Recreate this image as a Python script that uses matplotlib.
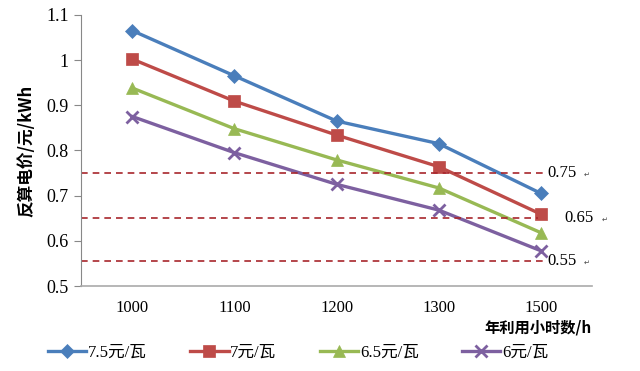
import matplotlib
matplotlib.use("Agg")
import matplotlib.pyplot as plt

categories = ["1000", "1100", "1200", "1300", "1500"]
series_names = ["7.5元/瓦", "7元/瓦", "6.5元/瓦", "6元/瓦"]
v75 = [1.065, 0.965, 0.865, 0.815, 0.705]
v70 = [1.002, 0.909, 0.834, 0.764, 0.659]
v65 = [0.938, 0.848, 0.779, 0.717, 0.618]
v60 = [0.875, 0.795, 0.725, 0.668, 0.578]
ref_values = [0.75, 0.65, 0.555]
ref_labels = ["0.75", "0.65", "0.55"]
yticks = [0.5, 0.6, 0.7, 0.8, 0.9, 1.0, 1.1]
ytick_labels = ["0.5", "0.6", "0.7", "0.8", "0.9", "1", "1.1"]

colors = ["#4A7EBB", "#BE4B48", "#98B954", "#7D60A0"]
markers = ["D", "s", "^", "x"]
msizes = [7, 9, 9, 9]

serif = ["Liberation Serif", "Noto Sans CJK SC", "DejaVu Sans"]
cjk = ["Noto Sans CJK SC", "DejaVu Sans"]

fig = plt.figure(figsize=(6.4, 3.71), dpi=100)
ax = fig.add_axes([0.127, 0.229, 0.798, 0.731])

x = list(range(len(categories)))
for vals, name, c, m, ms in zip([v75, v70, v65, v60], series_names, colors, markers, msizes):
    ax.plot(x, vals, color=c, lw=2.4, marker=m, markersize=ms,
            markeredgewidth=2 if m == "x" else 0.5, markeredgecolor=c, label=name)

ends = [4.05, 3.97, 4.05]
lx = [4.06, 4.23, 4.06]
for v, lab, e, tx in zip(ref_values, ref_labels, ends, lx):
    ax.plot([-0.5, e], [v, v], color="#A8262C", lw=1.2, ls=(0, (4, 3)))
    ax.text(tx, v, lab, family=serif, fontsize=12, va="center", ha="left")
    ax.text(tx + 0.36, v - 0.004, "↵", family=["DejaVu Sans"],
            fontsize=5, va="center", ha="left", color="#444444")

ax.set_xlim(-0.5, 4.5)
ax.set_ylim(0.5, 1.1)
ax.set_yticks(yticks)
ax.set_yticklabels(ytick_labels, family=serif, fontsize=13)
ax.set_xticks(x)
ax.set_xticklabels(categories, family=serif, fontsize=12)
ax.tick_params(axis="x", length=0, pad=10)
ax.tick_params(axis="y", length=5, color="#888888", direction="out", pad=4)
for s in ["top", "right"]:
    ax.spines[s].set_visible(False)
ax.spines["left"].set_color("#888888")
ax.spines["bottom"].set_color("#AAAAAA")
ax.spines["bottom"].set_linewidth(1.2)

ax.set_ylabel("反算电价/元/kWh", family=cjk, fontsize=12, fontweight="bold", labelpad=8)
fig.text(0.925, 0.118, "年利用小时数/h", family=cjk, fontsize=11, fontweight="bold",
         ha="right", va="center")

leg = fig.legend(loc="center", bbox_to_anchor=(0.466, 0.05), ncol=4, frameon=False,
                 prop={"family": serif, "size": 12}, columnspacing=2.6,
                 handlelength=2.3, handletextpad=0.1)

fig.savefig("out.png", dpi=100)
